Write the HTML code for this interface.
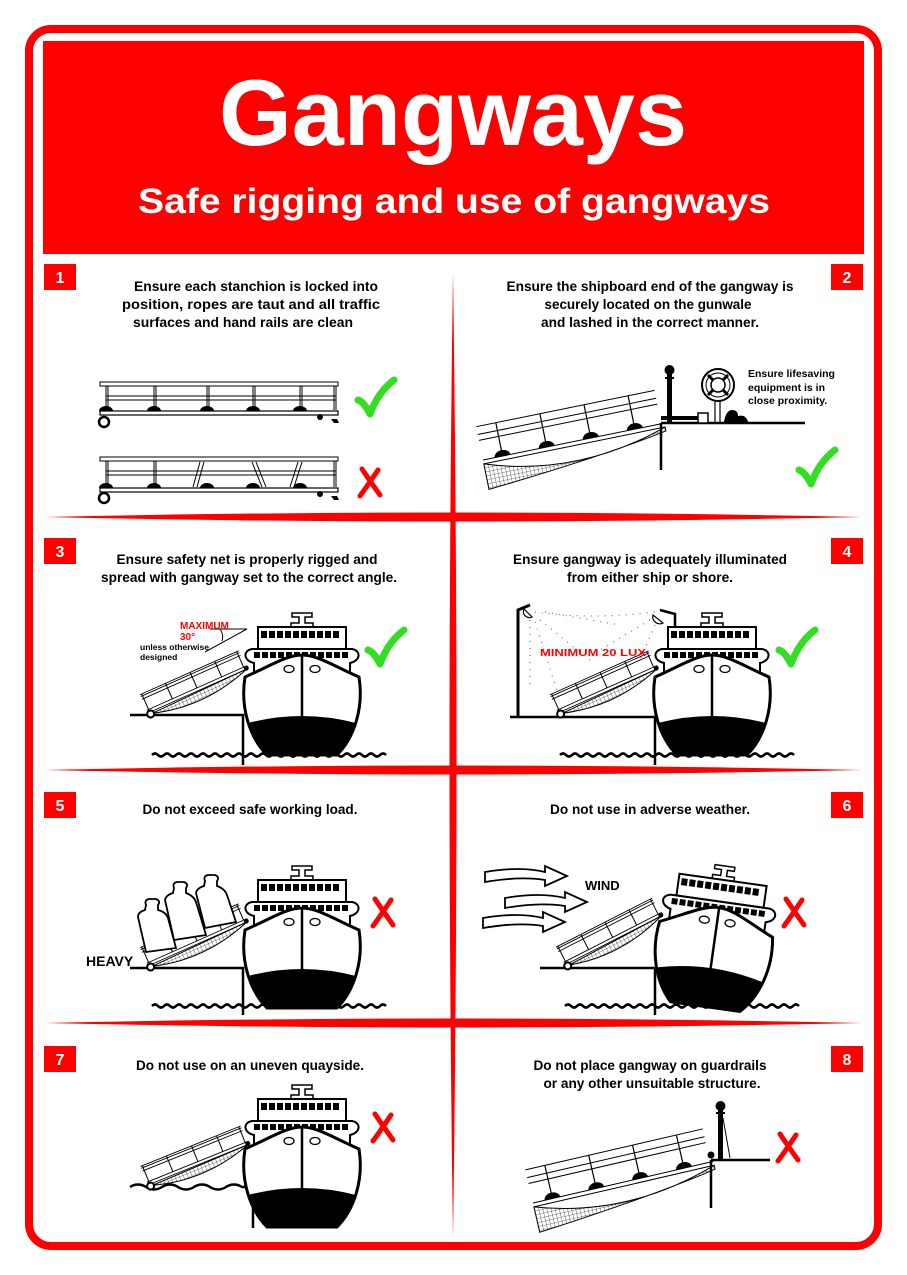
<!DOCTYPE html>
<html><head><meta charset="utf-8"><style>
html,body{margin:0;padding:0;background:#fff;}
svg{display:block;}
text{font-family:"Liberation Sans",Arial,sans-serif;font-weight:bold;}
</style></head><body>
<svg width="907" height="1275" viewBox="0 0 907 1275" xmlns="http://www.w3.org/2000/svg">
<defs>
<pattern id="net" width="4" height="4" patternUnits="userSpaceOnUse">
<path d="M0,0H4M0,0V4" stroke="#000" stroke-width="0.6" fill="none"/>
</pattern>
<g id="ship">
<path d="M-10,0h20v4h-7v6h8v4h-22v-4h8v-6h-7z" fill="#fff" stroke="#000" stroke-width="1.5"/>
<rect x="-44" y="14" width="88" height="22" fill="#fff" stroke="#000" stroke-width="2"/>
<g fill="#000">
<rect x="-41" y="18" width="6" height="7"/><rect x="-33" y="18" width="6" height="7"/><rect x="-25" y="18" width="6" height="7"/><rect x="-17" y="18" width="6" height="7"/><rect x="-9" y="18" width="6" height="7"/><rect x="-1" y="18" width="6" height="7"/><rect x="7" y="18" width="6" height="7"/><rect x="15" y="18" width="6" height="7"/><rect x="23" y="18" width="6" height="7"/><rect x="31" y="18" width="6" height="7"/>
</g>
<path d="M-48,66 V50 C-58,48 -60,38 -50,36 H50 C60,38 58,48 48,50 V66" fill="#fff" stroke="#000" stroke-width="2"/>
<g fill="#000">
<rect x="-48" y="39" width="6" height="6"/><rect x="-40" y="39" width="6" height="6"/><rect x="-32" y="39" width="6" height="6"/><rect x="-24" y="39" width="6" height="6"/><rect x="-16" y="39" width="6" height="6"/><rect x="-8" y="39" width="6" height="6"/><rect x="0" y="39" width="6" height="6"/><rect x="8" y="39" width="6" height="6"/><rect x="16" y="39" width="6" height="6"/><rect x="24" y="39" width="6" height="6"/><rect x="32" y="39" width="6" height="6"/><rect x="40" y="39" width="6" height="6"/>
</g>
<path d="M-57,64 C-30,52 -15,42 0,42 C15,42 30,52 57,64 C62,95 52,125 35,142 H-35 C-52,125 -62,95 -57,64Z" fill="#fff" stroke="#000" stroke-width="3"/>
<path d="M-54,110 Q0,96 54,110 C50,124 44,134 35,142 H-35 C-44,134 -50,124 -54,110Z" fill="#000"/>
<path d="M0,42V104" stroke="#000" stroke-width="2.5"/>
<ellipse cx="-13" cy="56" rx="5" ry="3.5" fill="#fff" stroke="#000" stroke-width="1.3"/>
<ellipse cx="13" cy="56" rx="5" ry="3.5" fill="#fff" stroke="#000" stroke-width="1.3"/>
</g>
<g id="sg">
<path d="M4,2 Q55,18 108,0 Z" fill="url(#net)" stroke="#000" stroke-width="1"/>
<path d="M0,0H110M0,-3H110M0,-20H108M0,-15H108M0,-18H108" stroke="#000" stroke-width="0.9" fill="none"/>
<path d="M2,-20V-3M28,-20V-3M55,-20V-3M82,-20V-3M106,-20V-3" stroke="#000" stroke-width="1"/>
<circle cx="2" cy="2" r="3.5" fill="#fff" stroke="#000" stroke-width="2"/>
<circle cx="108" cy="-1" r="2.5" fill="#000"/>
</g>
<path id="wave" d="M0,0 q3,-3 6,0 t6,0 t6,0 t6,0 t6,0 t6,0 t6,0 t6,0 t6,0 t6,0 t6,0 t6,0 t6,0 t6,0 t6,0 t6,0 t6,0 t6,0 t6,0 t6,0 t6,0 t6,0 t6,0 t6,0 t6,0 t6,0 t6,0 t6,0 t6,0 t6,0 t6,0 t6,0 t6,0 t6,0 t6,0 t6,0 t6,0 t6,0 t6,0" fill="none" stroke="#000" stroke-width="2.5"/>
<g id="bg">
<path d="M0,4 Q90,35 185,4 L185,8 Q120,20 0,30Z" fill="url(#net)" stroke="#000" stroke-width="1"/>
<path d="M0,0H185M0,4H185M0,-34H182M0,-26H182M0,-20H182" stroke="#000" stroke-width="1" fill="none"/>
<path d="M20,-34V-2M65,-34V-2M110,-34V-2M155,-34V-2" stroke="#000" stroke-width="1.2"/>
<path d="M12,0 a8,6 0 0 1 16,0Z M57,0 a8,6 0 0 1 16,0Z M102,0 a8,6 0 0 1 16,0Z M147,0 a8,6 0 0 1 16,0Z" fill="#000"/>
</g>
<g id="chk"><path d="M0,20 Q6,22 12,34 Q20,12 36,0" fill="none" stroke="#33dd22" stroke-width="7" stroke-linecap="round" stroke-linejoin="round"/></g>
<g id="xx"><path d="M4,2 Q12,14 22,28 M20,3 Q10,18 2,29" fill="none" stroke="#f00" stroke-width="5" stroke-linecap="round"/></g>
</defs>

<rect x="29" y="29" width="849" height="1217" rx="22" fill="#fff" stroke="#f00" stroke-width="8"/>
<rect x="43" y="41" width="821" height="213" fill="#f00"/>
<text x="453" y="145" font-size="94" fill="#fff" text-anchor="middle" textLength="468" lengthAdjust="spacingAndGlyphs">Gangways</text>
<text x="454" y="213" font-size="35" fill="#fff" text-anchor="middle" textLength="632" lengthAdjust="spacingAndGlyphs">Safe rigging and use of gangways</text>

<path d="M453,273 Q460,755 453,1238 Q446,755 453,273Z" fill="#f00"/>
<g fill="#f00">
<path d="M45,517 Q453,508 862,517 Q453,526 45,517Z"/>
<path d="M45,770 Q453,761 862,770 Q453,779 45,770Z"/>
<path d="M45,1023 Q453,1014 862,1023 Q453,1032 45,1023Z"/>
</g>

<g fill="#f00">
<rect x="44" y="264" width="32" height="26"/><rect x="831" y="264" width="32" height="26"/>
<rect x="44" y="538" width="32" height="26"/><rect x="831" y="538" width="32" height="26"/>
<rect x="44" y="792" width="32" height="26"/><rect x="831" y="792" width="32" height="26"/>
<rect x="44" y="1046" width="32" height="26"/><rect x="831" y="1046" width="32" height="26"/>
</g>
<g fill="#fff" font-size="16" text-anchor="middle">
<text x="60" y="283">1</text><text x="847" y="283">2</text>
<text x="60" y="557">3</text><text x="847" y="557">4</text>
<text x="60" y="811">5</text><text x="847" y="811">6</text>
<text x="60" y="1065">7</text><text x="847" y="1065">8</text>
</g>

<g font-size="14" fill="#000" text-anchor="middle">
<text x="256" y="291" textLength="244" lengthAdjust="spacingAndGlyphs">Ensure each stanchion is locked into</text>
<text x="251" y="309" textLength="258" lengthAdjust="spacingAndGlyphs">position, ropes are taut and all traffic</text>
<text x="243" y="327" textLength="220" lengthAdjust="spacingAndGlyphs">surfaces and hand rails are clean</text>
<text x="650" y="291" textLength="287" lengthAdjust="spacingAndGlyphs">Ensure the shipboard end of the gangway is</text>
<text x="648" y="309" textLength="207" lengthAdjust="spacingAndGlyphs">securely located on the gunwale</text>
<text x="650" y="327" textLength="218" lengthAdjust="spacingAndGlyphs">and lashed in the correct manner.</text>
<text x="247" y="564" textLength="261" lengthAdjust="spacingAndGlyphs">Ensure safety net is properly rigged and</text>
<text x="249" y="582" textLength="296" lengthAdjust="spacingAndGlyphs">spread with gangway set to the correct angle.</text>
<text x="650" y="564" textLength="274" lengthAdjust="spacingAndGlyphs">Ensure gangway is adequately illuminated</text>
<text x="650" y="582" textLength="166" lengthAdjust="spacingAndGlyphs">from either ship or shore.</text>
<text x="250" y="814" textLength="215" lengthAdjust="spacingAndGlyphs">Do not exceed safe working load.</text>
<text x="650" y="814" textLength="200" lengthAdjust="spacingAndGlyphs">Do not use in adverse weather.</text>
<text x="250" y="1070" textLength="228" lengthAdjust="spacingAndGlyphs">Do not use on an uneven quayside.</text>
<text x="650" y="1070" textLength="233" lengthAdjust="spacingAndGlyphs">Do not place gangway on guardrails</text>
<text x="652" y="1088" textLength="217" lengthAdjust="spacingAndGlyphs">or any other unsuitable structure.</text>
</g>

<!-- Panel 1 -->
<g stroke="#000" fill="none" stroke-width="1">
<rect x="100" y="382" width="238" height="4"/>
<path d="M106,386V410M154,386V410M207,386V410M253,386V410M300,386V410M334,386V410M108,386V410M156,386V410M209,386V410M255,386V410M302,386V410M336,386V410"/>
<path d="M106,396H336M106,400H336"/>
<rect x="100" y="411" width="238" height="4" stroke-width="1.2"/>
<rect x="100" y="457" width="238" height="4"/>
<path d="M106,461V487M154,461V487M336,461V487M108,461V487M156,461V487M334,461V487"/>
<path d="M106,471H336M106,475H336"/>
<path d="M200,462L193,487M204,462L197,487M252,462L262,487M256,462L266,487M298,462L290,487M302,462L294,487"/>
<rect x="100" y="488" width="238" height="4" stroke-width="1.2"/>
</g>
<g fill="#000">
<path d="M99,411a7,5 0 0 1 14,0Z M147,411a7,5 0 0 1 14,0Z M200,411a7,5 0 0 1 14,0Z M246,411a7,5 0 0 1 14,0Z M293,411a7,5 0 0 1 14,0Z"/>
<circle cx="320" cy="417" r="3"/><path d="M331,419h6l2,4h-5z"/>
<path d="M99,488a7,5 0 0 1 14,0Z M147,488a7,5 0 0 1 14,0Z M200,488a7,5 0 0 1 14,0Z M246,488a7,5 0 0 1 14,0Z M293,488a7,5 0 0 1 14,0Z"/>
<circle cx="320" cy="494" r="3"/><path d="M331,496h6l2,4h-5z"/>
</g>
<circle cx="104" cy="422" r="5" fill="#fff" stroke="#000" stroke-width="2.5"/>
<circle cx="104" cy="498" r="5" fill="#fff" stroke="#000" stroke-width="2.5"/>
<use href="#chk" x="358" y="380"/>
<use href="#xx" x="358" y="467"/>

<!-- Panel 2 -->
<g transform="translate(483,460) rotate(-11.5)"><use href="#bg"/></g>
<path d="M661,423H805M661,423V470" stroke="#000" stroke-width="2.5" fill="none"/>
<rect x="667" y="372" width="5" height="50" fill="#000"/>
<circle cx="669.5" cy="370" r="5" fill="#000"/>
<path d="M665,378h9" stroke="#000" stroke-width="2"/>
<path d="M661,418h40" stroke="#000" stroke-width="4"/>
<rect x="698" y="413" width="10" height="10" fill="#fff" stroke="#000" stroke-width="1.5"/>
<path d="M715,370V422M720,370V422" stroke="#000" stroke-width="1.2"/>
<circle cx="718" cy="385" r="16" fill="#fff" stroke="#000" stroke-width="2"/>
<circle cx="718" cy="385" r="12" fill="none" stroke="#000" stroke-width="1"/>
<circle cx="718" cy="385" r="7" fill="#fff" stroke="#000" stroke-width="1.5"/>
<path d="M708,375l5,5M728,375l-5,5M708,395l5,-5M728,395l-5,-5" stroke="#000" stroke-width="3"/>
<path d="M724,422 q2,-12 8,-12 q6,0 6,6 q8,-2 10,6z" fill="#000"/>
<g font-size="10.5" fill="#000">
<text x="748" y="377">Ensure lifesaving</text>
<text x="748" y="391">equipment is in</text>
<text x="748" y="404">close proximity.</text>
</g>
<use href="#chk" x="799" y="450"/>

<!-- Panel 3 -->
<path d="M130,715H243V765" stroke="#000" stroke-width="2.5" fill="none"/>
<use href="#wave" x="152" y="755"/>
<g transform="translate(148,713) rotate(-24)"><use href="#sg"/></g>
<use href="#ship" x="302" y="613"/>
<path d="M205,652L247,629M210,629H247M220,629 q4,6 2,12" stroke="#000" stroke-width="1" fill="none"/>
<text x="180" y="629" font-size="10" fill="#f00">MAXIMUM</text>
<text x="180" y="640" font-size="10" fill="#f00">30°</text>
<text x="140" y="650" font-size="8.5" fill="#000">unless otherwise</text>
<text x="140" y="660" font-size="8.5" fill="#000">designed</text>
<use href="#chk" x="368" y="630"/>

<!-- Panel 4 -->
<path d="M510,717H655V765" stroke="#000" stroke-width="2.5" fill="none"/>
<path d="M518,717V610L530,605" stroke="#000" stroke-width="3" fill="none"/>
<path d="M524,609 a6,6 0 0 0 8,8z" fill="#fff" stroke="#000" stroke-width="1.2"/>
<path d="M660,610L675,614V632" stroke="#000" stroke-width="2.5" fill="none"/>
<path d="M653,615 a7,7 0 0 0 10,8z" fill="#fff" stroke="#000" stroke-width="1.2"/>
<g stroke="#777" stroke-width="1.2" stroke-dasharray="1 6" fill="none">
<path d="M535,612 Q590,620 655,612"/><path d="M530,620V690"/><path d="M535,622L560,700"/><path d="M540,620L590,660"/>
<path d="M650,620L600,650"/><path d="M655,625L640,660"/><path d="M545,612L620,625"/>
</g>
<use href="#wave" x="560" y="755"/>
<g transform="translate(558,713) rotate(-24)"><use href="#sg"/></g>
<use href="#ship" x="712" y="613"/>
<text x="540" y="656" font-size="10" fill="#f00" textLength="106" lengthAdjust="spacingAndGlyphs">MINIMUM  20  LUX</text>
<use href="#chk" x="779" y="630"/>

<!-- Panel 5 -->
<path d="M130,968H243V1015" stroke="#000" stroke-width="2.5" fill="none"/>
<use href="#wave" x="152" y="1006"/>
<g transform="translate(148,966) rotate(-24)"><use href="#sg"/></g>
<g fill="#fff" stroke="#000" stroke-width="1.8">
<path d="M146,952 L138,917 Q138,912 145,910 L146,905 q-2,-5 3,-6 h7 q5,2 2,6 L158,910 Q166,912 168,918 L176,948Z"/>
<path d="M174,940 L165,900 Q166,895 173,893 L174,888 q-2,-5 3,-6 h7 q5,2 2,6 L186,893 Q194,896 196,902 L206,935Z"/>
<path d="M205,928 L196,893 Q197,888 204,886 L205,881 q-2,-5 3,-6 h7 q5,2 2,6 L217,886 Q225,889 227,895 L236,922Z"/>
</g>
<use href="#ship" x="302" y="866"/>
<text x="86" y="966" font-size="14" fill="#000">HEAVY</text>
<use href="#xx" x="371" y="897"/>

<!-- Panel 6 -->
<path d="M540,968H655V1015" stroke="#000" stroke-width="2.5" fill="none"/>
<use href="#wave" x="565" y="1006"/>
<g transform="translate(565,965) rotate(-27)"><use href="#sg"/></g>
<g transform="translate(725,866) rotate(8)"><use href="#ship"/></g>
<g fill="#fff" stroke="#000" stroke-width="1.8">
<path d="M485,872 Q520,866 545,872 V866 L567,876 L545,886 V880 Q520,876 485,882 Z"/>
<path d="M505,898 Q540,892 565,898 V892 L587,902 L565,912 V906 Q540,902 505,908 Z"/>
<path d="M483,918 Q518,912 543,918 V912 L565,922 L543,932 V926 Q518,922 483,928 Z"/>
</g>
<text x="585" y="890" font-size="13" fill="#000">WIND</text>
<use href="#xx" x="782" y="897"/>

<!-- Panel 7 -->
<path d="M130,1187 q8,-5 16,0 t16,0 t16,0 t16,0 t16,0 t16,0 t16,0 l11,0 V1228" stroke="#000" stroke-width="2.5" fill="none"/>
<g transform="translate(148,1185) rotate(-22)"><use href="#sg"/></g>
<use href="#ship" x="302" y="1085"/>
<use href="#xx" x="371" y="1112"/>

<!-- Panel 8 -->
<g transform="translate(533,1203) rotate(-13)"><use href="#bg"/></g>
<path d="M711,1160H770M711,1160V1208" stroke="#000" stroke-width="2.5" fill="none"/>
<rect x="718" y="1110" width="5" height="50" fill="#000"/>
<circle cx="720.5" cy="1106" r="5" fill="#000"/>
<path d="M716,1113h9" stroke="#000" stroke-width="2"/>
<path d="M723,1118L730,1158" stroke="#000" stroke-width="1"/>
<circle cx="711" cy="1155" r="3.5" fill="#000"/>
<use href="#xx" x="776" y="1132"/>
</svg>
</body></html>
